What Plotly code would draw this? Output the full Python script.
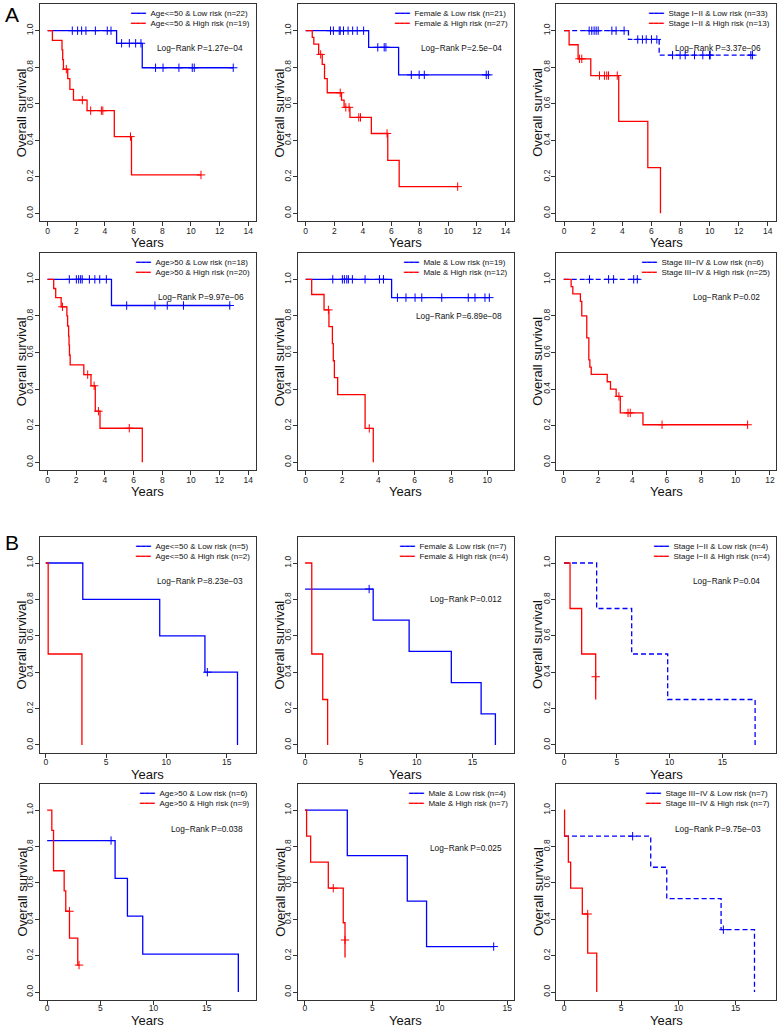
import plotly.graph_objects as go

# ---------------- DATA ----------------
# Panel A1: Age<=50
A1_low_t = [0, 4.81, 6.6, 12.95]
A1_low_s = [1, 0.931, 0.797, 0.797]
A1_low_ct = [1.72, 2.09, 2.37, 2.67, 3.33, 4.16, 4.42, 5.16, 5.70, 6.14, 6.51, 7.53, 8.05, 9.16, 10.09, 10.23, 12.95]
A1_low_cs = [1, 1, 1, 1, 1, 1, 1, 0.931, 0.931, 0.931, 0.931, 0.797, 0.797, 0.797, 0.797, 0.797, 0.797]
A1_high_t = [0, 0.33, 1.0, 1.05, 1.1, 1.4, 1.55, 1.8, 2.75, 4.65, 5.85, 10.7]
A1_high_s = [1, 0.947, 0.895, 0.842, 0.789, 0.737, 0.679, 0.62, 0.562, 0.42, 0.21, 0.21]
A1_high_ct = [1.3, 2.42, 3.0, 3.75, 3.85, 5.78, 10.7]
A1_high_cs = [0.789, 0.62, 0.562, 0.562, 0.562, 0.42, 0.21]

# Panel A2: Female
A2_low_t = [0, 4.41, 6.51, 12.85]
A2_low_s = [1, 0.909, 0.758, 0.758]
A2_low_ct = [1.74, 1.94, 2.35, 2.42, 2.65, 2.97, 3.29, 3.61, 4.06, 5.05, 5.5, 5.62, 7.4, 7.95, 8.31, 12.65, 12.8]
A2_low_cs = [1, 1, 1, 1, 1, 1, 1, 1, 1, 0.909, 0.909, 0.909, 0.758, 0.758, 0.758, 0.758, 0.758]
A2_high_t = [0, 0.46, 0.57, 0.91, 1.16, 1.32, 1.51, 2.51, 2.69, 3.1, 4.6, 5.75, 6.55, 10.65]
A2_high_s = [1, 0.963, 0.926, 0.87, 0.815, 0.737, 0.66, 0.62, 0.58, 0.525, 0.437, 0.29, 0.146, 0.146]
A2_high_ct = [1.05, 2.42, 2.81, 3.04, 3.72, 3.84, 5.7, 10.65]
A2_high_cs = [0.87, 0.66, 0.58, 0.58, 0.525, 0.525, 0.437, 0.146]

# Panel A3: Stage I-II
A3_low_t = [0, 4.42, 6.53, 12.97]
A3_low_s = [1, 0.952, 0.866, 0.866]
A3_low_ct = [1.72, 1.9, 2.06, 2.2, 2.34, 3.28, 3.57, 4.12, 5.06, 5.38, 5.64, 6.0, 6.37,
             7.45, 7.97, 8.32, 8.96, 9.53, 9.99, 10.04, 12.83, 12.94]
A3_low_cs = [1, 1, 1, 1, 1, 1, 1, 1, 0.952, 0.952, 0.952, 0.952, 0.952,
             0.866, 0.866, 0.866, 0.866, 0.866, 0.866, 0.866, 0.866, 0.866]
A3_high_t = [0, 0.34, 0.96, 1.83, 3.75, 5.75, 6.62]
A3_high_s = [1, 0.923, 0.846, 0.754, 0.503, 0.25, 0]
A3_high_ct = [1.05, 1.21, 2.43, 2.77, 2.93, 3.05, 3.65]
A3_high_cs = [0.846, 0.846, 0.754, 0.754, 0.754, 0.754, 0.754]

# Panel A4: Age>50
A4_low_t = [0, 4.46, 12.76]
A4_low_s = [1, 0.857, 0.857]
A4_low_ct = [1.52, 2.01, 2.17, 2.31, 2.42, 2.92, 3.30, 3.64, 4.10, 5.52, 7.49, 8.35, 9.48, 12.71]
A4_low_cs = [1, 1, 1, 1, 1, 1, 1, 1, 1, 0.857, 0.857, 0.857, 0.857, 0.857]
A4_high_t = [0, 0.43, 0.57, 0.95, 1.35, 1.40, 1.47, 1.50, 1.53, 1.58, 2.53, 3.03, 3.33, 3.66, 6.61]
A4_high_s = [1, 0.95, 0.90, 0.85, 0.80, 0.745, 0.69, 0.64, 0.585, 0.532, 0.479, 0.418, 0.279, 0.186, 0]
A4_high_ct = [1.04, 2.8, 3.25, 3.55, 5.7]
A4_high_cs = [0.85, 0.479, 0.418, 0.279, 0.186]

# Panel A5: Male
A5_low_t = [0, 4.73, 10.12]
A5_low_s = [1, 0.9, 0.9]
A5_low_ct = [1.49, 2.02, 2.13, 2.26, 2.35, 2.57, 3.27, 4.06, 4.28, 5.05, 5.52, 6.02, 6.39, 7.49, 8.95, 9.32, 9.87, 10.11]
A5_low_cs = [1, 1, 1, 1, 1, 1, 1, 1, 1, 0.9, 0.9, 0.9, 0.9, 0.9, 0.9, 0.9, 0.9, 0.9]
A5_high_t = [0, 0.33, 1.01, 1.28, 1.47, 1.52, 1.58, 1.76, 3.27, 3.72]
A5_high_s = [1, 0.917, 0.833, 0.741, 0.648, 0.555, 0.463, 0.37, 0.185, 0]
A5_high_ct = [1.25, 3.5]
A5_high_cs = [0.833, 0.185]

# Panel A6: Stage III-IV
A6_low_t = [0, 4.42]
A6_low_s = [1, 1]
A6_low_ct = [1.5, 2.61, 2.9, 4.07, 4.28]
A6_low_cs = [1, 1, 1, 1, 1]
A6_high_t = [0, 0.43, 0.53, 0.97, 1.05, 1.34, 1.46, 1.52, 1.6, 2.53, 2.72, 3.05, 3.29, 4.61, 10.7]
A6_high_s = [1, 0.96, 0.92, 0.88, 0.80, 0.68, 0.56, 0.52, 0.48, 0.44, 0.40, 0.36, 0.27, 0.205, 0.205]
A6_high_ct = [3.21, 3.74, 3.87, 5.72, 10.7]
A6_high_cs = [0.36, 0.27, 0.27, 0.205, 0.205]

# Panel B1: Age<=50
B1_low_t = [0, 3.07, 9.45, 13.2, 15.9]
B1_low_s = [1, 0.8, 0.6, 0.4, 0]
B1_low_ct = [13.4]
B1_low_cs = [0.4]
B1_high_t = [0, 0.2, 3.0]
B1_high_s = [1, 0.5, 0]
B1_high_ct = []
B1_high_cs = []

# Panel B2: Female
B2_low_t = [0, 6.1, 9.32, 13.1, 15.77, 17.05]
B2_low_s = [0.857, 0.686, 0.514, 0.343, 0.171, 0]
B2_low_ct = [5.74]
B2_low_cs = [0.857]
B2_high_t = [0, 0.6, 1.58, 2.02]
B2_high_s = [1, 0.5, 0.25, 0]
B2_high_ct = []
B2_high_cs = []

# Panel B3: Stage I-II
B3_low_t = [0, 3.09, 6.41, 9.82, 18.1]
B3_low_s = [1, 0.75, 0.5, 0.25, 0]
B3_low_ct = []
B3_low_cs = []
B3_high_t = [0, 0.57, 1.67, 3.0]
B3_high_s = [1, 0.75, 0.5, 0.25]
B3_high_ct = [3.0]
B3_high_cs = [0.375]

# Panel B4: Age>50
B4_low_t = [0, 6.39, 7.55, 8.99, 17.98]
B4_low_s = [0.833, 0.625, 0.417, 0.208, 0]
B4_low_ct = [6.01]
B4_low_cs = [0.833]
B4_high_t = [0, 0.44, 0.6, 1.6, 1.75, 2.1, 2.88, 3.0]
B4_high_s = [1, 0.889, 0.667, 0.556, 0.444, 0.296, 0.148, 0.148]
B4_high_ct = [2.1, 3.0]
B4_high_cs = [0.444, 0.148]

# Panel B5: Male
B5_low_t = [0, 3.14, 7.59, 9.02, 14.0]
B5_low_s = [1, 0.75, 0.5, 0.25, 0.25]
B5_low_ct = [14.0]
B5_low_cs = [0.25]
B5_high_t = [0, 0.12, 0.42, 1.73, 2.84, 2.97]
B5_high_s = [1, 0.857, 0.714, 0.571, 0.381, 0.19]
B5_high_ct = [2.1, 2.97]
B5_high_cs = [0.571, 0.286]

# Panel B6: Stage III-IV
B6_low_t = [0, 7.58, 8.98, 13.73, 16.65]
B6_low_s = [0.857, 0.686, 0.514, 0.343, 0]
B6_low_ct = [6.0, 13.93]
B6_low_cs = [0.857, 0.343]
B6_high_t = [0, 0.05, 0.38, 0.58, 1.6, 2.07, 2.86]
B6_high_s = [1, 0.857, 0.714, 0.571, 0.429, 0.214, 0]
B6_high_ct = [2.07]
B6_high_cs = [0.429]

# Legend labels and p-values
low_labels = ["Age<=50 & Low risk (n=22)", "Female & Low risk (n=21)", "Stage I\u2212II & Low risk (n=33)",
              "Age>50 & Low risk (n=18)", "Male & Low risk (n=19)", "Stage III\u2212IV & Low risk (n=6)",
              "Age<=50 & Low risk (n=5)", "Female & Low risk (n=7)", "Stage I\u2212II & Low risk (n=4)",
              "Age>50 & Low risk (n=6)", "Male & Low risk (n=4)", "Stage III\u2212IV & Low risk (n=7)"]
high_labels = ["Age<=50 & High risk (n=19)", "Female & High risk (n=27)", "Stage I\u2212II & High risk (n=13)",
               "Age>50 & High risk (n=20)", "Male & High risk (n=12)", "Stage III\u2212IV & High risk (n=25)",
               "Age<=50 & High risk (n=2)", "Female & High risk (n=4)", "Stage I\u2212II & High risk (n=4)",
               "Age>50 & High risk (n=9)", "Male & High risk (n=7)", "Stage III\u2212IV & High risk (n=7)"]
pvalue_labels = ["Log\u2212Rank P=1.27e\u221204", "Log\u2212Rank P=2.5e\u221204", "Log\u2212Rank P=3.37e\u221206",
                 "Log\u2212Rank P=9.97e\u221206", "Log\u2212Rank P=6.89e\u221208", "Log\u2212Rank P=0.02",
                 "Log\u2212Rank P=8.23e\u221203", "Log\u2212Rank P=0.012", "Log\u2212Rank P=0.04",
                 "Log\u2212Rank P=0.038", "Log\u2212Rank P=0.025", "Log\u2212Rank P=9.75e\u221203"]
x_tick_sets = [[0, 2, 4, 6, 8, 10, 12, 14]] * 4 + [[0, 2, 4, 6, 8, 10], [0, 2, 4, 6, 8, 10, 12]] + [[0, 5, 10, 15]] * 6
y_ticks = [0, 0.2, 0.4, 0.6, 0.8, 1.0]
y_tick_text = ["0.0", "0.2", "0.4", "0.6", "0.8", "1.0"]
x_title = "Years"
y_title = "Overall survival"

# ---------------- LAYOUT ----------------
W, H = 779, 1029
BLUE, RED = "#0000FF", "#FF0000"
FONT = "Liberation Sans, Arial, Helvetica, sans-serif"
AX = "#333333"

col_px = [(39.5, 256.3), (297.7, 513.5), (556.0, 776.0)]
row_px = [(4.4, 221.3), (253.0, 470.3), (536.8, 753.0), (784.0, 1000.0)]
x_ranges = [[-0.57, 14.56], [-0.56, 14.56], [-0.56, 14.56],
            [-0.56, 14.56], [-0.44, 11.44], [-0.45, 12.35],
            [-0.52, 17.46], [-0.66, 18.67], [-0.76, 20.08],
            [-0.72, 19.67], [-0.54, 15.47], [-0.70, 18.53]]
y_range = [-0.044, 1.144]
dashed_low = [False, False, True, False, False, True, False, False, True, False, False, True]
pval_pos = [(200, 48.3), (461.3, 48.3), (717.5, 48.3),
            (200.8, 297.3), (459, 316), (726.7, 297.3),
            (200, 580.7), (465.7, 599.3), (726.7, 580.7),
            (207.3, 829), (465.7, 847.7), (717.5, 829)]
years_drop = [21.0, 21.0, 21.0, 20.0]
xlabel_standoff = [-3, -3, -3, -4]

panels = [
    (A1_low_t, A1_low_s, A1_low_ct, A1_low_cs, A1_high_t, A1_high_s, A1_high_ct, A1_high_cs),
    (A2_low_t, A2_low_s, A2_low_ct, A2_low_cs, A2_high_t, A2_high_s, A2_high_ct, A2_high_cs),
    (A3_low_t, A3_low_s, A3_low_ct, A3_low_cs, A3_high_t, A3_high_s, A3_high_ct, A3_high_cs),
    (A4_low_t, A4_low_s, A4_low_ct, A4_low_cs, A4_high_t, A4_high_s, A4_high_ct, A4_high_cs),
    (A5_low_t, A5_low_s, A5_low_ct, A5_low_cs, A5_high_t, A5_high_s, A5_high_ct, A5_high_cs),
    (A6_low_t, A6_low_s, A6_low_ct, A6_low_cs, A6_high_t, A6_high_s, A6_high_ct, A6_high_cs),
    (B1_low_t, B1_low_s, B1_low_ct, B1_low_cs, B1_high_t, B1_high_s, B1_high_ct, B1_high_cs),
    (B2_low_t, B2_low_s, B2_low_ct, B2_low_cs, B2_high_t, B2_high_s, B2_high_ct, B2_high_cs),
    (B3_low_t, B3_low_s, B3_low_ct, B3_low_cs, B3_high_t, B3_high_s, B3_high_ct, B3_high_cs),
    (B4_low_t, B4_low_s, B4_low_ct, B4_low_cs, B4_high_t, B4_high_s, B4_high_ct, B4_high_cs),
    (B5_low_t, B5_low_s, B5_low_ct, B5_low_cs, B5_high_t, B5_high_s, B5_high_ct, B5_high_cs),
    (B6_low_t, B6_low_s, B6_low_ct, B6_low_cs, B6_high_t, B6_high_s, B6_high_ct, B6_high_cs),
]


def esc(s):
    return s.replace("&", "&amp;").replace("<", "&lt;").replace(">", "&gt;")


fig = go.Figure()
annotations = []
layout_axes = {}

for i, (lt, ls, lct, lcs, ht, hs, hct, hcs) in enumerate(panels):
    n = i + 1
    sfx = "" if n == 1 else str(n)
    xr, yr = "x" + sfx, "y" + sfx
    r, c = divmod(i, 3)
    x0, x1 = col_px[c]
    top, bot = row_px[r]

    fig.add_trace(go.Scatter(x=lt, y=ls, mode="lines", line=dict(color=BLUE, width=1.3, shape="hv",
                             dash="5px,3px" if dashed_low[i] else "solid"),
                             xaxis=xr, yaxis=yr, showlegend=False, name=low_labels[i], hoverinfo="skip"))
    fig.add_trace(go.Scatter(x=ht, y=hs, mode="lines", line=dict(color=RED, width=1.3, shape="hv"),
                             xaxis=xr, yaxis=yr, showlegend=False, name=high_labels[i], hoverinfo="skip"))
    fig.add_trace(go.Scatter(x=lct, y=lcs, mode="markers",
                             marker=dict(symbol="cross-thin", size=6, line=dict(color=BLUE, width=1)),
                             xaxis=xr, yaxis=yr, showlegend=False, hoverinfo="skip"))
    fig.add_trace(go.Scatter(x=hct, y=hcs, mode="markers",
                             marker=dict(symbol="cross-thin", size=6, line=dict(color=RED, width=1)),
                             xaxis=xr, yaxis=yr, showlegend=False, hoverinfo="skip"))

    common = dict(showline=True, mirror=True, linecolor=AX, linewidth=1, ticks="outside", ticklen=4,
                  tickwidth=1, tickcolor=AX, showgrid=False, zeroline=False,
                  tickfont=dict(family=FONT, size=8.5, color="#222"))
    layout_axes["xaxis" + sfx] = dict(domain=[x0 / W, x1 / W], range=x_ranges[i], anchor=yr,
                                      tickmode="array", tickvals=x_tick_sets[i],
                                      ticklabelstandoff=xlabel_standoff[r], **common)
    layout_axes["yaxis" + sfx] = dict(domain=[1 - bot / H, 1 - top / H], range=y_range, anchor=xr,
                                      tickmode="array", tickvals=y_ticks, ticktext=y_tick_text, tickangle=-90,
                                      ticklabelstandoff=-2, **common)

    # axis titles
    annotations.append(dict(text=x_title, xref=xr + " domain", yref=yr + " domain", x=0.5, y=0,
                            xanchor="center", yanchor="middle", yshift=-years_drop[r], showarrow=False,
                            borderpad=0, font=dict(family=FONT, size=13, color="#111")))
    annotations.append(dict(text=y_title, xref=xr + " domain", yref=yr + " domain", x=0, y=0.5,
                            xanchor="center", yanchor="middle", xshift=-18, textangle=-90, showarrow=False,
                            borderpad=0, font=dict(family=FONT, size=13, color="#111")))

    leg_text = ('<span style="color:%s">\u2501\u2501\u2501</span>\u00a0\u00a0%s<br>'
                '<span style="color:%s">\u2501\u2501\u2501</span>\u00a0\u00a0%s'
                % (BLUE, esc(low_labels[i]), RED, esc(high_labels[i])))
    annotations.append(dict(text=leg_text, xref=xr + " domain", yref=yr + " domain", x=1, y=1,
                            xanchor="right", yanchor="top", xshift=-4, yshift=-3, align="left",
                            showarrow=False, font=dict(family=FONT, size=8, color="#111")))
    px_, py_ = pval_pos[i]
    annotations.append(dict(text=pvalue_labels[i], xref="paper", yref="paper", x=px_ / W, y=1 - py_ / H,
                            xanchor="center", yanchor="middle", showarrow=False,
                            font=dict(family=FONT, size=8.3, color="#111")))

annotations.append(dict(text="A", xref="paper", yref="paper", x=11.5 / W, y=1 - 14 / H, xanchor="center",
                        yanchor="middle", showarrow=False, font=dict(family=FONT, size=21, color="#000")))
annotations.append(dict(text="B", xref="paper", yref="paper", x=11.5 / W, y=1 - 542.5 / H, xanchor="center",
                        yanchor="middle", showarrow=False, font=dict(family=FONT, size=21, color="#000")))

fig.update_layout(width=W, height=H, margin=dict(l=0, r=0, t=0, b=0), autosize=False,
                  paper_bgcolor="white", plot_bgcolor="white", showlegend=False,
                  annotations=annotations, **layout_axes)
fig.write_html("out.html", config={"displayModeBar": False},
               post_script="document.body.style.margin='0';document.body.style.overflow='hidden';")
